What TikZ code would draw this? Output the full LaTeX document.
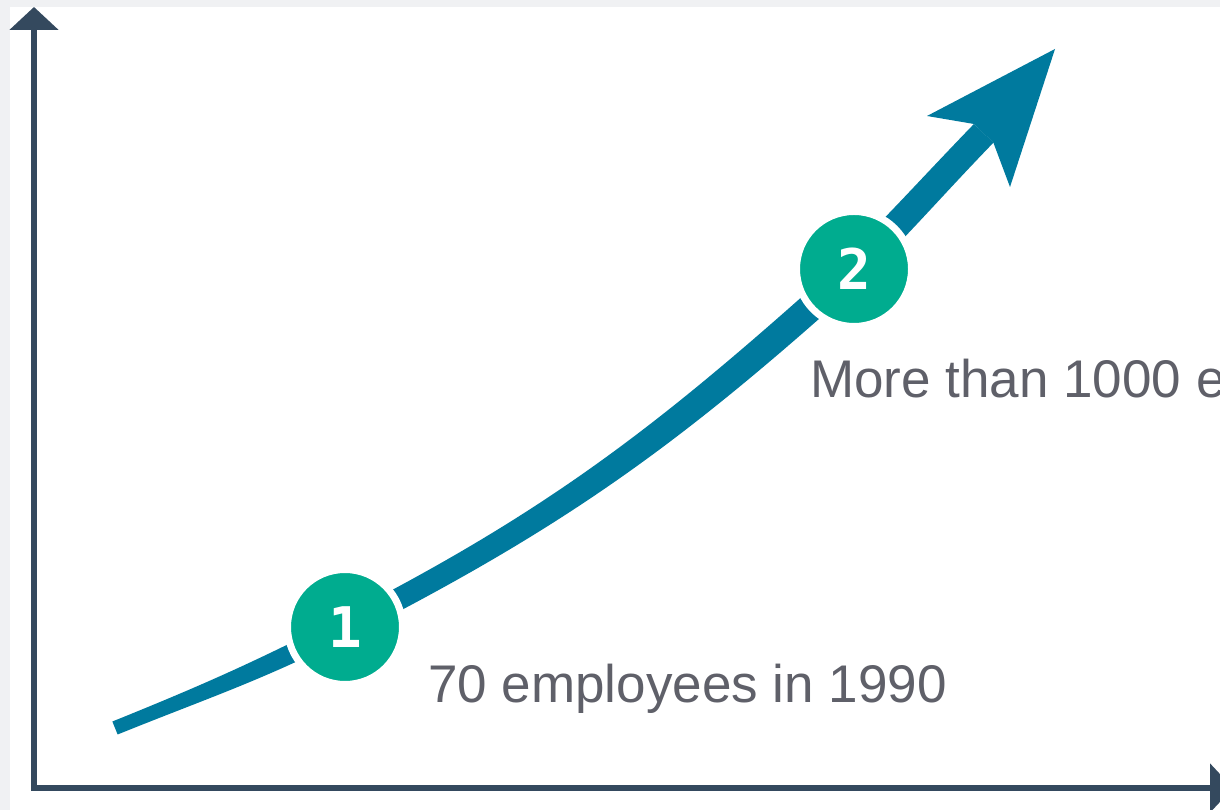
\documentclass[tikz,border=0pt]{standalone}
\usepackage{fontspec}
\setmainfont{Liberation Sans}
\newfontfamily\digitfont{DejaVu Sans Mono Bold}
\usetikzlibrary{arrows.meta,calc}

\definecolor{axisgray}{RGB}{52,73,94}
\definecolor{curveblue}{RGB}{0,122,158}
\definecolor{stepgreen}{RGB}{0,172,143}
\definecolor{labelgray}{RGB}{95,96,105}
\definecolor{framegray}{RGB}{240,241,243}

\tikzset{
  axis/.style={axisgray,line width=5.5pt},
  growth/.style={fill=curveblue},
  stepdot/.style={circle,fill=stepgreen,draw=white,line width=7pt,
    minimum size=115pt,inner sep=0pt,text=white,
    font=\digitfont\fontsize{56}{56}\selectfont},
  steplabel/.style={anchor=base west,inner sep=0pt,text=labelgray,
    font=\fontsize{53}{60}\selectfont}
}

\begin{document}
\begin{tikzpicture}[x=1pt,y=1pt]
\useasboundingbox (0,0) rectangle (1220,810);
\fill[framegray] (0,0) rectangle (1220,810);
\fill[white] (10,0) rectangle (1220,803);

% axes
\draw[axis,{Triangle[width=48pt,length=23pt]}-{Triangle[width=48pt,length=23pt]}]
  (34,803) |- (1233,22);

% growth curve, widening towards the head
\coordinate (start) at (115,82);
\coordinate (p1) at (345,183);
\coordinate (p2) at (854,541);
\coordinate (shaftend) at (983.7,676.7);
\fill[growth] ($(start)+(112:7)$) to[out=22,in=207] ($(p1)+(117:10)$)
  -- ($(p1)+(297:10)$) to[out=207,in=22] ($(start)+(292:7)$) -- cycle;
\fill[growth] ($(p1)+(117:11)$) to[out=27,in=222] ($(p2)+(132:14)$)
  -- ($(p2)+(312:14)$) to[out=222,in=27] ($(p1)+(297:11)$) -- cycle;
\fill[growth] ($(p2)+(135:14)$) to[out=45,in=226] ($(shaftend)+(136:13.5)$)
  -- ($(shaftend)+(316:13.5)$) to[out=226,in=45] ($(p2)+(315:14)$) -- cycle;
\fill[curveblue] (1055,761) -- (927,694) -- (974,686) -- (993.4,667.3) -- (1010,623) -- cycle;

% steps
\node[stepdot] (n1) at (p1) {1};
\node[stepdot] (n2) at (p2) {2};
\node[steplabel] (l1) at (428,107) {70 employees in 1990};
\node[steplabel] (l2) at (810,412) {More than 1000 employees};
\end{tikzpicture}
\end{document}
